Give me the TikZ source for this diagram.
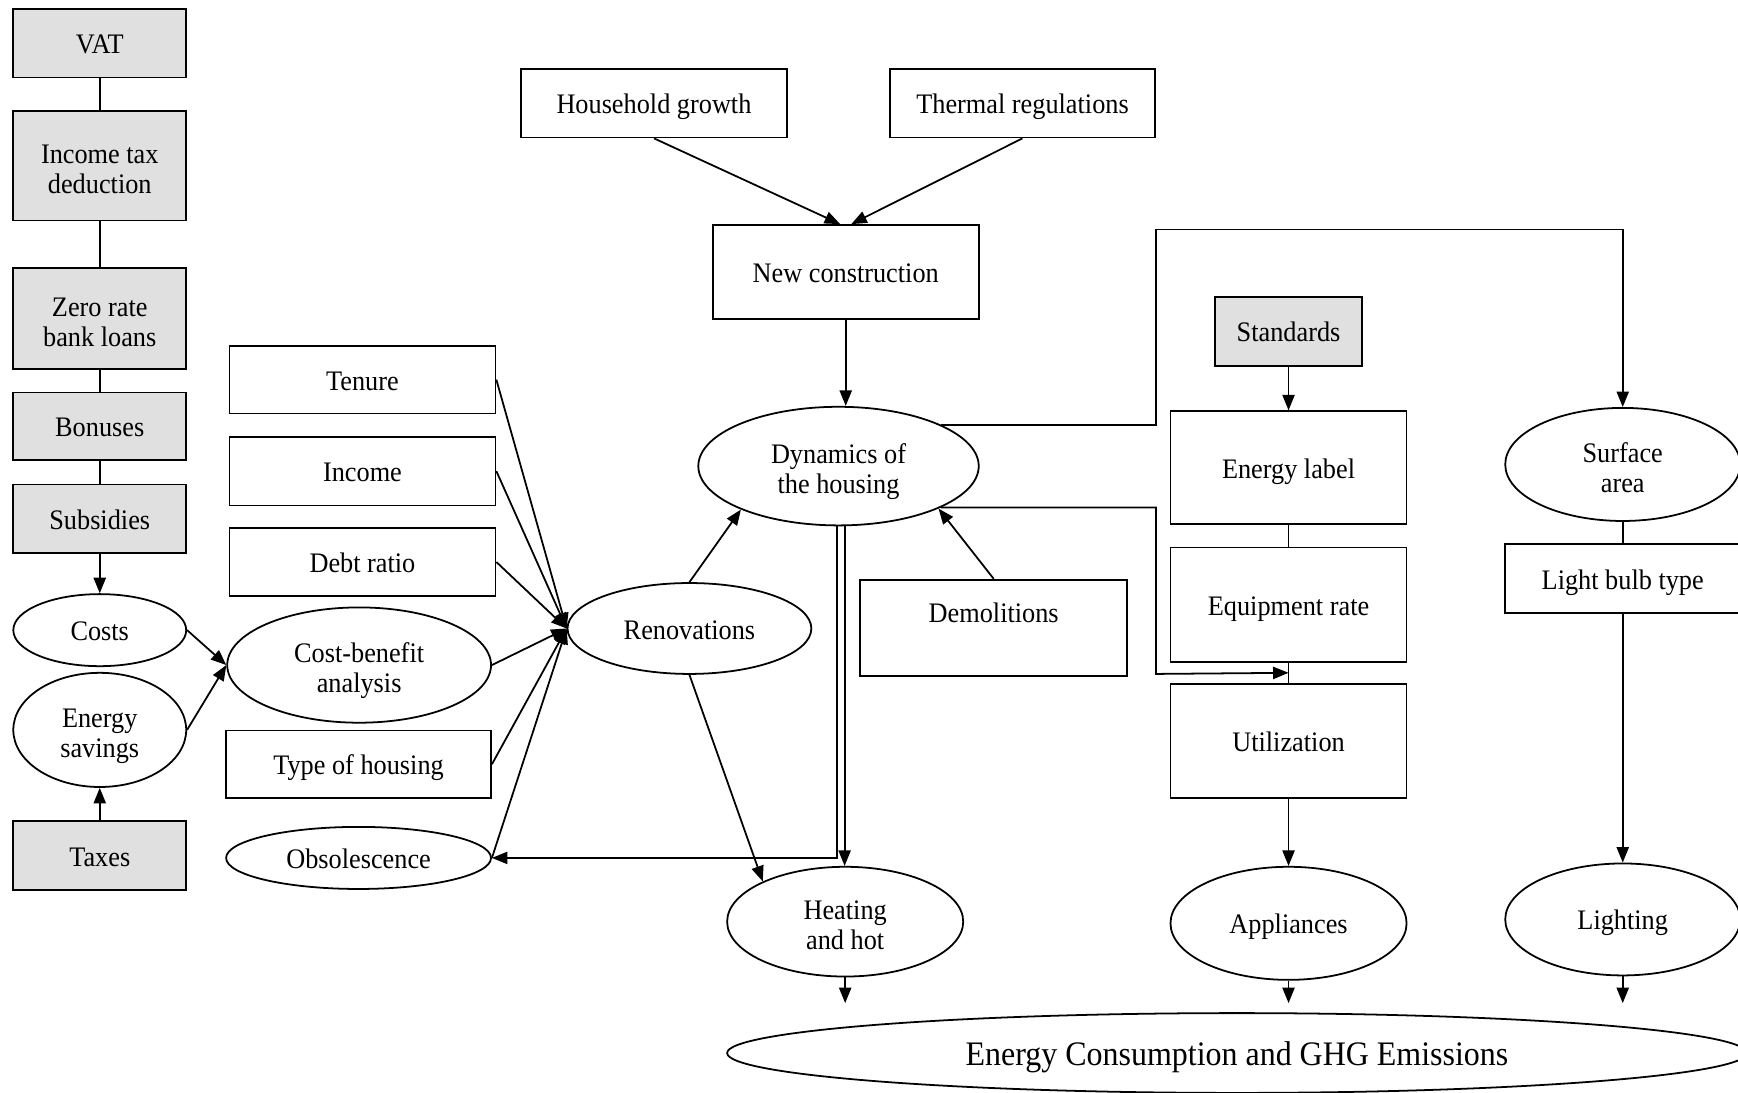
\documentclass[tikz,border=0pt]{standalone}
\usepackage{fontspec}
\setmainfont{Liberation Serif}[FakeStretch=0.93]
\usetikzlibrary{shapes.geometric,arrows.meta,calc}
\newcommand{\nfont}{\fontsize{25.5pt}{27pt}\selectfont}
\newcommand{\bigfont}{\fontsize{31pt}{33pt}\selectfont}
\definecolor{policygray}{HTML}{E0E0E0}
\begin{document}
\begin{tikzpicture}[x=1pt,y=1pt,
  sz/.style 2 args={minimum width=#1pt, minimum height=#2pt},
  one/.style={text height=21pt, text depth=2pt},
  two/.style={text height=51.8pt, text depth=2pt},
  box/.style={draw, line width=1.6pt, rectangle, inner sep=0pt, align=center, fill=white, font=\nfont, one},
  gbox/.style={box, fill=policygray},
  ell/.style={draw, line width=1.6pt, ellipse, inner sep=0pt, align=center, fill=white, font=\nfont, one},
  con/.style={line width=1.6pt},
  arr/.style={con, -{Triangle[length=14pt,width=11pt]}}]
\useasboundingbox (0,0) rectangle (1568,-986);
% left column
\node[gbox, sz={156}{62}] (vat) at (90,-39) {VAT};
\node[gbox, sz={156}{99}, two] (itd) at (90,-149.5) {Income tax\\deduction};
\node[gbox, sz={156}{91}, two] (zr) at (90,-287.5) {Zero rate\\bank loans};
\node[gbox, sz={156}{61}] (bon) at (90,-384.5) {Bonuses};
\node[gbox, sz={156}{62}] (sub) at (90,-468) {Subsidies};
\node[ell, sz={156}{65}] (cost) at (90,-568.5) {Costs};
\node[ell, sz={156}{103}, two] (esav) at (90,-658.5) {Energy\\savings};
\node[gbox, sz={156}{62}] (tax) at (90,-772) {Taxes};
% second column
\node[box, sz={240}{61}] (ten) at (327,-342.5) {Tenure};
\node[box, sz={240}{62}] (inc) at (327,-425) {Income};
\node[box, sz={240}{62}] (debt) at (327,-507) {Debt ratio};
\node[ell, sz={238}{104}, two] (cba) at (324,-600) {Cost-benefit\\analysis};
\node[box, sz={239}{61}] (toh) at (323.5,-689.5) {Type of housing};
\node[ell, sz={239}{56}] (obs) at (323.5,-774) {Obsolescence};
% centre
\node[box, sz={240}{62}] (hg) at (590,-93) {Household growth};
\node[box, sz={239}{62}] (tr) at (922.5,-93) {Thermal regulations};
\node[box, sz={240}{85}] (nc) at (763,-245.5) {New construction};
\node[ell, sz={253}{107}, two] (dyn) at (756.5,-420.5) {Dynamics of\\the housing};
\node[ell, sz={220}{82}] (ren) at (622,-567) {Renovations};
\node[box, sz={241}{87}, text height=17.5pt, text depth=28pt] (dem) at (896.5,-566.5) {Demolitions};
\node[ell, sz={213}{99}, two] (heat) at (762.5,-831.5) {Heating\\and hot};
% right
\node[gbox, sz={133}{62}] (std) at (1162.5,-299) {Standards};
\node[box, sz={213}{102}] (el) at (1162.5,-422) {Energy label};
\node[box, sz={213}{103}] (eq) at (1162.5,-545.5) {Equipment rate};
\node[box, sz={213}{103}] (ut) at (1162.5,-668.5) {Utilization};
\node[ell, sz={213}{102}] (app) at (1162.5,-833) {Appliances};
\node[ell, sz={212}{102}, two] (surf) at (1464,-419) {Surface\\area};
\node[box, sz={212}{62}] (lbt) at (1464,-522) {Light bulb type};
\node[ell, sz={212}{101}] (lig) at (1464,-829.5) {Lighting};
\node[ell, sz={920}{72}, font=\bigfont, text height=25pt, text depth=2pt] (ecg) at (1116,-950) {Energy Consumption and GHG Emissions};
% coordinates
\coordinate (ra) at (1043,-207);
\coordinate (rb) at (1043,-608);
\coordinate (h1) at (762.5,-905);
\coordinate (h2) at (1162.5,-905);
\coordinate (h3) at (1464,-905);
% connectors left
\draw[con] (vat) -- (itd);
\draw[con] (itd) -- (zr);
\draw[con] (zr) -- (bon);
\draw[con] (bon) -- (sub);
\draw[arr] (sub) -- (cost);
\draw[arr] (tax) -- (esav);
\draw[arr] (cost.east) -- (cba.west);
\draw[arr] (esav.east) -- (cba.west);
\draw[arr] (ten.east) -- (ren.west);
\draw[arr] (inc.east) -- (ren.west);
\draw[arr] (debt.east) -- (ren.west);
\draw[arr] (cba.east) -- (ren.west);
\draw[arr] (toh.east) -- (ren.west);
\draw[arr] (obs.east) -- (ren.west);
% centre
\draw[arr] (hg.south) -- ($(nc.north)+(-5,0)$);
\draw[arr] (tr.south) -- ($(nc.north)+(5,0)$);
\draw[arr] (nc.south) -- (nc.south |- dyn.north);
\draw[arr] (ren.north) -- (dyn.204);
\draw[arr] (dem.north) -- (dyn.337);
\draw[arr] (ren.south) -- (heat.154);
\draw[arr] ([xshift=-1.5pt]dyn.south) |- (obs.east);
\draw[arr] ([xshift=5.5pt]dyn.south) -- ([xshift=5.5pt]dyn.south |- heat.north);
\draw[arr] (dyn.22) -| (ra) -| (surf.north);
\draw[arr] (dyn.338) -| (rb) -- ($(eq.south)!0.5!(ut.north)$);
% right
\draw[arr] (std) -- (el);
\draw[con] (el) -- (eq);
\draw[con] (eq) -- (ut);
\draw[arr] (ut) -- (app);
\draw[con] (surf) -- (lbt);
\draw[arr] (lbt) -- (lig);
\draw[arr] (heat.south) -- (h1);
\draw[arr] (app.south) -- (h2);
\draw[arr] (lig.south) -- (h3);
\end{tikzpicture}
\end{document}
